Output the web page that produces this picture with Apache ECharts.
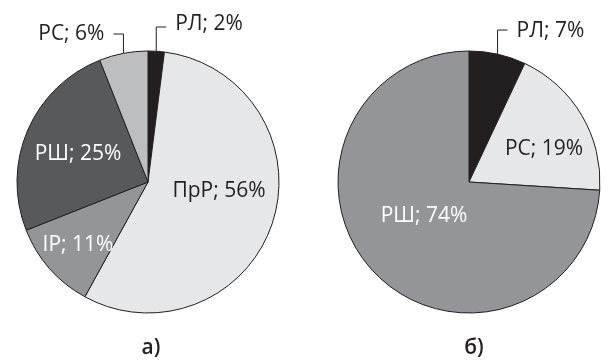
<!DOCTYPE html>
<html>
<head>
<meta charset="utf-8">
<script src="https://cdn.jsdelivr.net/npm/echarts@6/dist/echarts.min.js"></script>
<style>
html,body{margin:0;padding:0;background:#fff;}
#chart{width:612px;height:361px;}
</style>
</head>
<body>
<div id="chart"></div>
<script>
// данные: а) слева, б) справа
var namesA=['РЛ','ПрР','IP','РШ','РС'];
var valuesA=[2,56,11,25,6];
var colorsA=['#231f20','#e6e7e8','#939598','#58595b','#bcbec0'];

var namesB=['РЛ','РС','РШ'];
var valuesB=[7,19,74];
var colorsB=['#231f20','#e6e7e8','#939598'];

var captions=['а)','б)'];

var R=131;
var centers=[[148,182],[469,182]];
var FONT='Open Sans';

// где ставить подписи (смещение от центра круга)
var inner={
    0:{'ПрР':[71,9],'IP':[-70,63],'РШ':[-70,-28]},
    1:{'РС':[75,-33],'РШ':[-45,34]}
};
// выноски: высота горизонтальной части, сторона, высота текста
var outer={
    0:{'РЛ':{y:27,dir:1,ty:24},'РС':{y:34,dir:-1,ty:34}},
    1:{'РЛ':{y:30,dir:1,ty:31}}
};
var darkText={'#e6e7e8':1,'#bcbec0':1};

function makeData(si,names,values,colors){
    var d=[];
    for(var i=0;i<names.length;i++){
        var col=(darkText[colors[i]]||outer[si][names[i]])?'#231f20':'#ffffff';
        d.push({
            name:names[i],
            value:values[i],
            itemStyle:{color:colors[i]},
            label:{color:col},
            labelLine:{show:!!outer[si][names[i]]}
        });
    }
    return d;
}

function layoutFor(si,vals,nms){
    var total=0;
    for(var i=0;i<vals.length;i++) total+=vals[i];
    return function(p){
        var c=centers[si];
        var nm=nms[p.dataIndex];
        if(inner[si][nm]){
            var o=inner[si][nm];
            return {x:c[0]+o[0],y:c[1]+o[1],align:'center',verticalAlign:'middle'};
        }
        var acc=0;
        for(var k=0;k<p.dataIndex;k++) acc+=vals[k];
        var mid=(acc+vals[p.dataIndex]/2)/total*Math.PI*2;
        var ex=c[0]+R*Math.sin(mid), ey=c[1]-R*Math.cos(mid);
        var ol=outer[si][nm];
        var hx=ex+ol.dir*10;
        return {
            x:hx+ol.dir*9,
            y:ol.ty,
            align:ol.dir>0?'left':'right',
            verticalAlign:'middle',
            labelLinePoints:[[ex,ey],[ex,ol.y],[hx,ol.y]]
        };
    };
}

function makeSeries(si,names,values,colors){
    return {
        type:'pie',
        center:centers[si],
        radius:[0,R],
        startAngle:90,
        clockwise:true,
        avoidLabelOverlap:false,
        silent:true,
        animation:false,
        itemStyle:{borderColor:'#231f20',borderWidth:1},
        label:{
            show:true,
            position:'outside',
            formatter:'{b}; {c}%',
            fontFamily:FONT,
            fontSize:21
        },
        labelLine:{show:true,length:0,length2:0,lineStyle:{color:'#231f20',width:1}},
        labelLayout:layoutFor(si,values,names),
        data:makeData(si,names,values,colors)
    };
}

var chart=echarts.init(document.getElementById('chart'));
chart.setOption({
    backgroundColor:'#fff',
    title:[
        {text:captions[0],left:146,top:333,textAlign:'center',
         textStyle:{fontFamily:FONT,fontSize:21,fontWeight:600,color:'#231f20'}},
        {text:captions[1],left:469,top:333,textAlign:'center',
         textStyle:{fontFamily:FONT,fontSize:21,fontWeight:600,color:'#231f20'}}
    ],
    series:[
        makeSeries(0,namesA,valuesA,colorsA),
        makeSeries(1,namesB,valuesB,colorsB)
    ]
});
</script>
</body>
</html>
